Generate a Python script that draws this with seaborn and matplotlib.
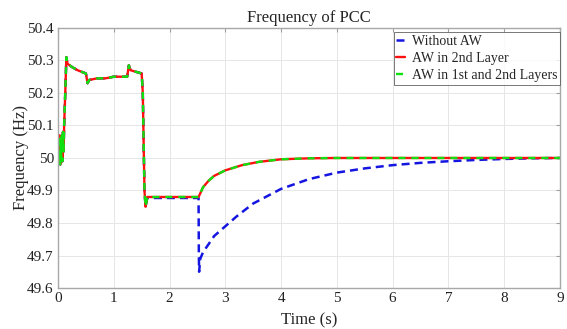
import numpy as np
import pandas as pd
import matplotlib
matplotlib.use("Agg")
import matplotlib.pyplot as plt
import seaborn as sns

# shared transient (all three series identical up to the fault at ~2.52 s)
t_shared = [0.0, 0.01, 0.02, 0.03, 0.04, 0.05, 0.06, 0.07, 0.08, 0.09, 0.10, 0.11,
            0.13, 0.15, 0.17, 0.25, 0.35, 0.50, 0.53, 0.56, 0.70, 0.85, 1.00, 1.15,
            1.24, 1.27, 1.30, 1.40, 1.50, 1.52, 1.55, 1.57, 1.60, 2.00, 2.40, 2.52]
f_shared = [50.0, 50.05, 49.99, 50.07, 49.98, 50.06, 50.0, 50.07, 49.99, 50.08, 50.02, 50.10,
            50.20, 50.31, 50.29, 50.28, 50.27, 50.26, 50.23, 50.24, 50.245, 50.245, 50.25, 50.25,
            50.25, 50.285, 50.27, 50.265, 50.26, 50.20, 49.90, 49.85, 49.88, 49.88, 49.88, 49.88]

# after the event
t_noaw = [2.525, 2.53, 2.55, 2.60, 2.70, 2.80, 3.00, 3.20, 3.50, 4.00, 4.50, 5.00,
          5.50, 6.00, 6.50, 7.00, 7.50, 8.00, 8.50, 9.00]
f_noaw = [49.70, 49.65, 49.69, 49.71, 49.735, 49.76, 49.79, 49.82, 49.86, 49.905, 49.935, 49.955,
          49.968, 49.978, 49.985, 49.99, 49.994, 49.997, 49.999, 50.0]

t_aw = [2.60, 2.70, 2.80, 3.00, 3.30, 3.60, 4.00, 4.50, 5.00, 6.00, 7.00, 8.00, 9.00]
f_aw2 = [49.91, 49.93, 49.945, 49.962, 49.978, 49.988, 49.996, 49.999, 50.0, 50.0, 50.0, 50.0, 50.0]
f_aw12 = [49.91, 49.93, 49.945, 49.962, 49.978, 49.988, 49.996, 49.999, 50.0, 50.0, 50.0, 50.0, 50.0]

labels = ["Without AW", "AW in 2nd Layer", "AW in 1st and 2nd Layers"]
xticks = list(range(0, 10))
yticks = [49.6, 49.7, 49.8, 49.9, 50.0, 50.1, 50.2, 50.3, 50.4]
ytick_labels = ["49.6", "49.7", "49.8", "49.9", "50", "50.1", "50.2", "50.3", "50.4"]

sns.set_style("whitegrid")
plt.rcParams['font.family'] = ['Liberation Serif', 'DejaVu Serif']

fig = plt.figure(figsize=(5.67, 3.29), dpi=100)
ax = fig.add_axes([0.1023, 0.1246, 0.8854, 0.7904])

blue_t = t_shared[:-1] + [2.52] + t_noaw
blue_f = [v - 0.003 if t >= 1.6 else v for t, v in zip(t_shared, f_shared)][:-1] + [49.877] + f_noaw
red_t = t_shared + t_aw
red_f = f_shared + f_aw2
green_t = t_shared + t_aw
green_f = f_shared + f_aw12

sns.lineplot(x=blue_t, y=blue_f, ax=ax, color="#1515e0", lw=1.8, dashes=False,
             estimator=None, sort=False, label=labels[0], linestyle=(0, (3.2, 2)))
sns.lineplot(x=red_t, y=red_f, ax=ax, color="#ff1010", lw=1.7, estimator=None,
             sort=False, label=labels[1])
sns.lineplot(x=green_t, y=green_f, ax=ax, color="#10e010", lw=1.7, estimator=None,
             sort=False, label=labels[2], linestyle=(0, (3, 2.5)))

ax.set_xlim(0, 9)
ax.set_ylim(49.6, 50.4)
ax.set_xticks(xticks)
ax.set_yticks(yticks)
ax.set_yticklabels(ytick_labels)
ax.tick_params(direction="in", length=3, labelsize=11, top=True, right=True,
               colors="#a0a0a0", pad=3)
ax.tick_params(axis="both", labelcolor="#222222")
ax.grid(True, color="#e6e6e6", lw=0.7)
for s in ax.spines.values():
    s.set_color("#a8a8a8")
    s.set_linewidth(1.0)
ax.set_title("Frequency of PCC", fontsize=12, pad=4)
ax.set_xlabel("Time (s)", fontsize=12, labelpad=5)
ax.set_ylabel("Frequency (Hz)", fontsize=12, labelpad=-1)

leg = ax.legend(loc="upper right", bbox_to_anchor=(1.0, 0.985), fontsize=10,
                handlelength=0.6, handletextpad=0.5, borderpad=0.2, labelspacing=0.3,
                frameon=True, fancybox=False, borderaxespad=0.0)
leg.get_frame().set_edgecolor("#555555")
leg.get_frame().set_linewidth(0.7)

fig.savefig("out.png", dpi=100)
